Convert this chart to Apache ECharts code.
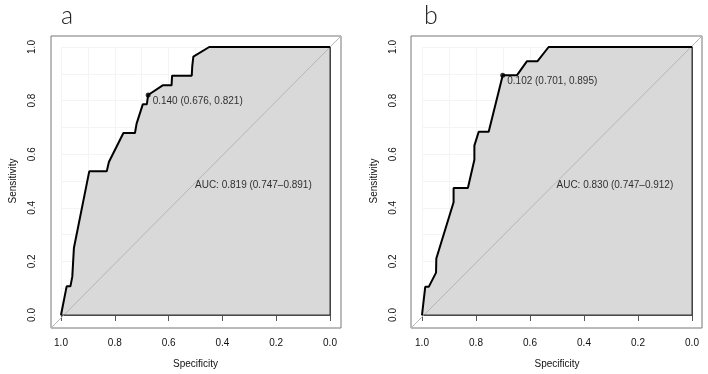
<!DOCTYPE html>
<html>
<head>
<meta charset="utf-8">
<script src="https://cdn.jsdelivr.net/npm/echarts@6/dist/echarts.min.js"></script>
<style>
  html, body { margin: 0; padding: 0; background: #fff; }
  #chart { width: 708px; height: 374px; }
</style>
</head>
<body>
<div id="chart"></div>
<script>
// panel a: ROC curve (specificity, sensitivity)
const specA = [1.0, 0.993, 0.979, 0.965, 0.958, 0.952, 0.895, 0.830, 0.822, 0.768, 0.725, 0.719, 0.696, 0.681, 0.676, 0.622, 0.589, 0.587, 0.514, 0.512, 0.508, 0.449, 0.0];
const sensA = [0, 0, 0.107, 0.107, 0.143, 0.250, 0.536, 0.536, 0.571, 0.679, 0.679, 0.714, 0.786, 0.786, 0.821, 0.857, 0.857, 0.893, 0.893, 0.929, 0.964, 1.0, 1.0];
const bestA = [0.676, 0.821];
const bestLabelA = '0.140 (0.676, 0.821)';
const aucLabelA = 'AUC: 0.819 (0.747\u20130.891)';

// panel b
const specB = [1.0, 0.988, 0.975, 0.948, 0.947, 0.883, 0.883, 0.830, 0.806, 0.806, 0.790, 0.753, 0.701, 0.648, 0.611, 0.572, 0.531, 0.0];
const sensB = [0, 0.105, 0.105, 0.158, 0.211, 0.421, 0.474, 0.474, 0.579, 0.632, 0.684, 0.684, 0.895, 0.895, 0.947, 0.947, 1.0, 1.0];
const bestB = [0.701, 0.895];
const bestLabelB = '0.102 (0.701, 0.895)';
const aucLabelB = 'AUC: 0.830 (0.747\u20130.912)';

const panelTitles = ['a', 'b'];
const aucPos = [0.5, 0.5];

const FONT = '"Liberation Sans", Arial, sans-serif';
const chart = echarts.init(document.getElementById('chart'), null, { renderer: 'canvas' });

const toPairs = (xs, ys) => xs.map((x, i) => [x, ys[i]]);

// outer box (hidden axes, -0.04..1.04) and inner plot (0..1) for each panel
const boxes = [
  { outer: { left: 51, top: 36, width: 290, height: 292 }, inner: { left: 61, top: 47, width: 269, height: 270 } },
  { outer: { left: 411, top: 36, width: 291, height: 292 }, inner: { left: 422, top: 47, width: 270, height: 270 } },
];

const grids = [];
const xAxes = [];
const yAxes = [];
boxes.forEach(b => {
  grids.push({ ...b.outer, show: true, borderColor: '#777', borderWidth: 1, backgroundColor: 'transparent' });
  grids.push({ ...b.inner });
});

const gridLine = { show: true, lineStyle: { color: '#f4f4f4', width: 1 } };

for (let p = 0; p < 2; p++) {
  xAxes.push({ gridIndex: p * 2, type: 'value', min: -0.04, max: 1.04, inverse: true, show: false });
  yAxes.push({ gridIndex: p * 2, type: 'value', min: -0.04, max: 1.04, show: false });
  xAxes.push({
    gridIndex: p * 2 + 1, type: 'value', min: 0, max: 1, interval: 0.2, inverse: true, offset: 11,
    name: 'Specificity', nameLocation: 'middle', nameGap: 33,
    nameTextStyle: { fontFamily: FONT, fontSize: 10, color: '#111' },
    axisLine: { show: true, lineStyle: { color: '#555', width: 1 } },
    axisTick: { show: true, length: 6, lineStyle: { color: '#555' } },
    axisLabel: { fontFamily: FONT, fontSize: 10, color: '#111', margin: 12, formatter: v => v.toFixed(1) },
    splitLine: gridLine,
    minorTick: { show: false, splitNumber: 2 },
    minorSplitLine: gridLine,
  });
  yAxes.push({
    gridIndex: p * 2 + 1, type: 'value', min: 0, max: 1, interval: 0.2, offset: 10,
    name: 'Sensitivity', nameLocation: 'middle', nameGap: 33,
    nameTextStyle: { fontFamily: FONT, fontSize: 10, color: '#111' },
    axisLine: { show: true, lineStyle: { color: '#555', width: 1 } },
    axisTick: { show: true, length: 6, lineStyle: { color: '#555' } },
    axisLabel: { fontFamily: FONT, fontSize: 10, color: '#111', margin: 14, rotate: 90, formatter: v => v.toFixed(1) },
    splitLine: gridLine,
    minorTick: { show: false, splitNumber: 2 },
    minorSplitLine: gridLine,
  });
}

const panels = [
  { spec: specA, sens: sensA, best: bestA, bestLabel: bestLabelA, aucLabel: aucLabelA },
  { spec: specB, sens: sensB, best: bestB, bestLabel: bestLabelB, aucLabel: aucLabelB },
];

const series = [];
panels.forEach((pd, p) => {
  const outer = p * 2;
  const inner = p * 2 + 1;
  const roc = toPairs(pd.spec, pd.sens);
  // shaded area under the curve
  series.push({
    type: 'line', xAxisIndex: inner, yAxisIndex: inner, data: roc, symbol: 'none', silent: true, z: 1,
    lineStyle: { width: 0 }, areaStyle: { color: '#d9d9d9', opacity: 1 },
  });
  // chance diagonal across the whole box
  series.push({
    type: 'line', xAxisIndex: outer, yAxisIndex: outer, data: [[1.04, -0.04], [-0.04, 1.04]],
    symbol: 'none', silent: true, z: 2, lineStyle: { color: '#b5b5b5', width: 1 },
  });
  // polygon border (bottom + right)
  series.push({
    type: 'line', xAxisIndex: inner, yAxisIndex: inner, data: [[1, 0], [0, 0], [0, 1]],
    symbol: 'none', silent: true, z: 3, lineStyle: { color: '#333', width: 1 },
  });
  // ROC curve
  series.push({
    type: 'line', xAxisIndex: inner, yAxisIndex: inner, data: roc, symbol: 'none', silent: true, z: 4,
    lineStyle: { color: '#000', width: 2 },
  });
  // best threshold
  series.push({
    type: 'scatter', xAxisIndex: inner, yAxisIndex: inner, data: [pd.best], symbolSize: 5, z: 5,
    itemStyle: { color: '#000' },
    label: {
      show: true, position: 'right', distance: 2, offset: [0, 6], formatter: () => pd.bestLabel,
      fontFamily: FONT, fontSize: 10, color: '#000',
    },
  });
  // AUC text
  series.push({
    type: 'scatter', xAxisIndex: inner, yAxisIndex: inner, data: [aucPos], symbolSize: 1, z: 5,
    itemStyle: { color: 'transparent' },
    label: {
      show: true, position: [0, 0], align: 'left', verticalAlign: 'top', formatter: () => pd.aucLabel,
      fontFamily: FONT, fontSize: 10, color: '#000',
    },
  });
});

chart.setOption({
  backgroundColor: '#fff',
  animation: false,
  title: panelTitles.map((t, i) => ({
    text: t, left: i === 0 ? 56 : 419, top: -2,
    textStyle: { fontFamily: 'Lato, "Open Sans", sans-serif', fontWeight: 300, fontSize: 25, color: '#222' },
  })),
  grid: grids,
  xAxis: xAxes,
  yAxis: yAxes,
  series: series,
});
</script>
</body>
</html>
